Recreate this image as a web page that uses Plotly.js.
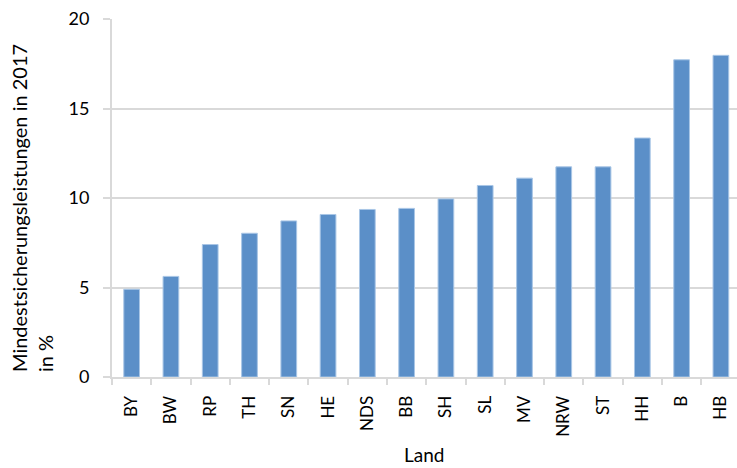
<!DOCTYPE html>
<html><head><meta charset="utf-8">
<script src="https://cdn.plot.ly/plotly-3.0.1.min.js"></script>
<style>html,body{margin:0;padding:0;background:#fff}#c{width:737px;height:468px}</style>
</head><body><div id="c"></div>
<script>
const laender = ["BY","BW","RP","TH","SN","HE","NDS","BB","SH","SL","MV","NRW","ST","HH","B","HB"];
const werte = [4.9,5.62,7.4,8.03,8.72,9.08,9.36,9.42,9.95,10.7,11.11,11.74,11.74,13.35,17.72,17.97];
const yTicks = [0,5,10,15,20];
const yTitle = "Mindestsicherungsleistungen in 2017<br>in %";
const xTitle = "Land";

const font = "Lato, 'Open Sans', sans-serif";
const grid = "#d9d9d9";

Plotly.newPlot("c", [{
  type: "bar", x: laender, y: werte, width: 0.4,
  marker: {color: "#5b8fc8", line: {color: "#a9c6e6", width: 1}},
  hoverinfo: "x+y"
}], {
  width: 737, height: 468,
  margin: {l: 112, r: 0, t: 19, b: 91, pad: 0},
  paper_bgcolor: "#fff", plot_bgcolor: "#fff",
  font: {family: font, size: 16, color: "#000"},
  showlegend: false,
  xaxis: {
    type: "category", range: [-0.5, 15.41],
    tickson: "boundaries", ticks: "outside", ticklen: 6, tickcolor: grid, tickwidth: 2,
    showline: true, linecolor: grid, linewidth: 2, showgrid: false,
    tickangle: -90, tickfont: {family: font, size: 17}, ticklabelstandoff: 10
  },
  yaxis: {
    range: [0, 20], tickvals: yTicks, ticks: "outside", ticklen: 7, tickcolor: grid, tickwidth: 2,
    showline: true, linecolor: grid, linewidth: 2,
    showgrid: true, gridcolor: grid, gridwidth: 2, zeroline: false,
    tickfont: {family: font, size: 18}, ticklabelstandoff: 10
  },
  annotations: [{
    text: yTitle, xref: "paper", yref: "paper", x: -0.128, y: 0.472,
    xanchor: "center", yanchor: "middle", textangle: -90, align: "left",
    showarrow: false, font: {family: font, size: 20}
  }, {
    text: xTitle, xref: "paper", yref: "paper", x: (424 - 112) / 625, y: -0.252,
    xanchor: "center", yanchor: "bottom", borderpad: 0, showarrow: false, font: {family: font, size: 19}
  }]
}, {displayModeBar: false, staticPlot: true});
</script></body></html>
